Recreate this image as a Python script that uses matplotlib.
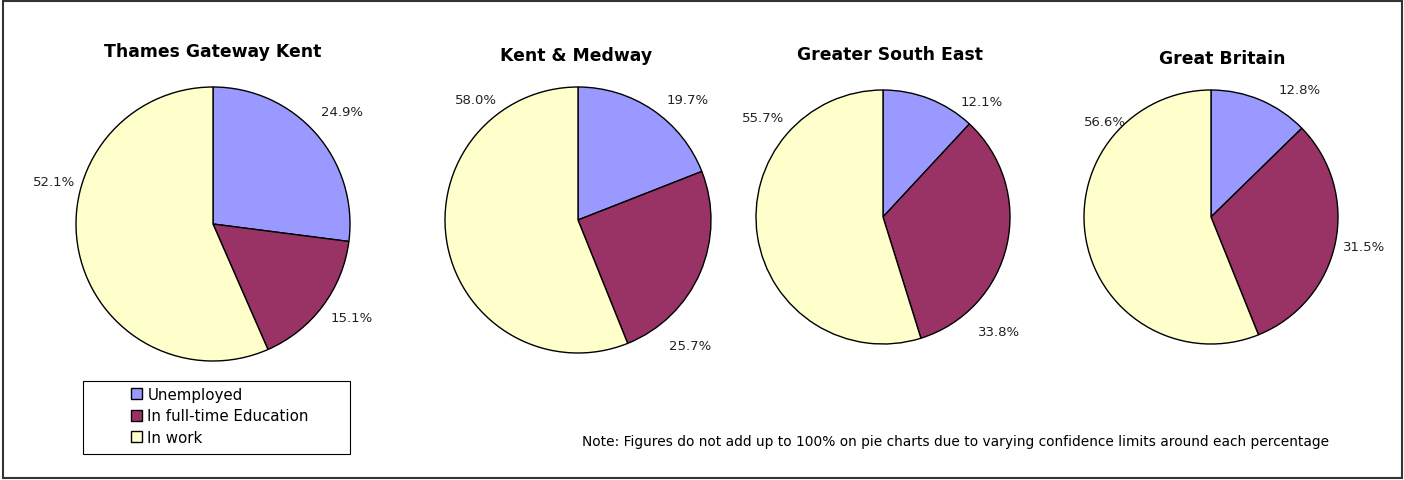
import matplotlib
matplotlib.use("Agg")
import matplotlib.pyplot as plt
from matplotlib.patches import Rectangle
from matplotlib import font_manager

W, H = 1404, 481

regions = ["Thames Gateway Kent", "Kent & Medway", "Greater South East", "Great Britain"]
categories = ["Unemployed", "In full-time Education", "In work"]
unemployed = [24.9, 19.7, 12.1, 12.8]
education = [15.1, 25.7, 33.8, 31.5]
in_work = [52.1, 58.0, 55.7, 56.6]
note = ("Note: Figures do not add up to 100% on pie charts due to varying "
        "confidence limits around each percentage")

colors = ["#9999ff", "#993366", "#ffffcc"]

# layout in pixels (y measured from top of the picture)
centers = [(213, 225), (578, 221), (883, 218), (1211, 218)]
radii = [137, 133, 127, 127]
title_pos = [(213, 52), (576, 56), (890, 55), (1222, 59)]
# label offsets from pie centre, pixels (dx right, dy up)
label_offsets = [
    [(129, 113), (139, -94), (-159, 43)],
    [(110, 120), (112, -126), (-102, 121)],
    [(99, 115), (116, -114), (-120, 100)],
    [(89, 127), (153, -30), (-106, 96)],
]

names = {f.name for f in font_manager.fontManager.ttflist}
note_font = "Liberation Sans Narrow" if "Liberation Sans Narrow" in names else "DejaVu Sans"

fig = plt.figure(figsize=(W / 100, H / 100), dpi=100)
ax = fig.add_axes([0, 0, 1, 1])

wedges_first = None
for i, region in enumerate(regions):
    vals = [unemployed[i], education[i], in_work[i]]
    cx, cy = centers[i]
    wedges, _ = ax.pie(
        vals,
        colors=colors,
        startangle=90,
        counterclock=False,
        center=(cx, H - cy),
        radius=radii[i],
        wedgeprops=dict(edgecolor="black", linewidth=1.0),
        frame=True,
    )
    if wedges_first is None:
        wedges_first = wedges
    for v, (dx, dy) in zip(vals, label_offsets[i]):
        ax.text(cx + dx, H - cy + dy, f"{v:.1f}%", ha="center", va="center",
                fontsize=9.5, color="#222222")
    tx, ty = title_pos[i]
    ax.text(tx, H - ty, region, ha="center", va="center", fontsize=12.4,
            fontweight="bold", color="black")

ax.set_xlim(0, W)
ax.set_ylim(0, H)
ax.set_aspect("auto")
ax.axis("off")

# legend box
ax.add_patch(Rectangle((83, H - 455), 267, 73, fill=False, edgecolor="black",
                       linewidth=0.8))
leg = ax.legend(wedges_first, categories, loc="center",
                bbox_to_anchor=(220 / W, (H - 417) / H), frameon=False,
                fontsize=10.8, handlelength=0.75, handleheight=0.75,
                handletextpad=0.35, labelspacing=0.42, borderpad=0)
for h in leg.legend_handles:
    h.set_linewidth(1.0)
    h.set_edgecolor("black")

ax.text(582, H - 442, note, ha="left", va="center", fontsize=9.9,
        family=note_font, color="black")

# outer frame
ax.add_patch(Rectangle((2.5, 2.5), W - 5, H - 4.5, fill=False,
                       edgecolor="#333333", linewidth=1.5, clip_on=False))

fig.savefig("out.png", dpi=100)
